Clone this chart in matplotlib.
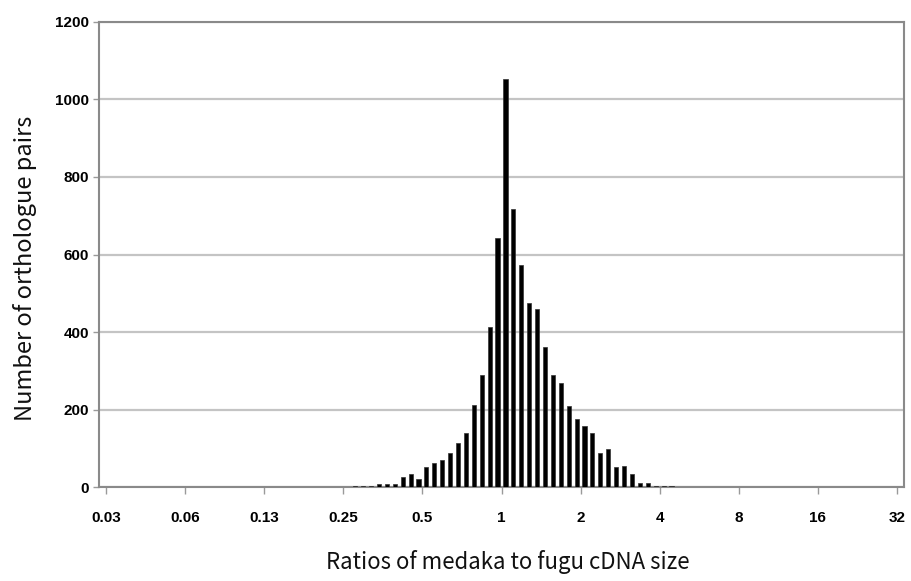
import numpy as np
import matplotlib
matplotlib.use("Agg")
import matplotlib.pyplot as plt

# bins are tenths of an octave (log2 of the medaka/fugu size ratio)
bin_index = list(range(-19, 22))
counts = [4, 4, 4, 9, 9, 9, 28, 34, 21, 52,
          63, 72, 90, 114, 141, 213, 290, 414, 643, 1053,
          718, 573, 476, 459, 362, 290, 270, 211, 176, 158,
          141, 90, 99, 52, 56, 35, 12, 12, 3, 3, 3]

tick_pos = [-5, -4, -3, -2, -1, 0, 1, 2, 3, 4, 5]
tick_labels = ['0.03', '0.06', '0.13', '0.25', '0.5', '1', '2', '4', '8', '16', '32']
y_ticks = [0, 200, 400, 600, 800, 1000, 1200]

log2_centers = np.array(bin_index) / 10 + 0.05

fig = plt.figure(figsize=(9.12, 5.81), dpi=100)
ax = fig.add_axes([0.1086, 0.161, 0.8826, 0.8017])

ax.bar(log2_centers, counts, width=0.052, color='black', edgecolor='#333333',
       linewidth=0.5, zorder=3)

ax.set_xlim(-5.09, 5.09)
ax.set_ylim(0, 1200)
ax.set_yticks(y_ticks)
ax.set_xticks(tick_pos)
ax.set_xticklabels(tick_labels)

ax.yaxis.grid(True, color='#c4c4c4', linewidth=1.6, zorder=0)
ax.set_axisbelow(True)

for s in ax.spines.values():
    s.set_color('#8a8a8a')
    s.set_linewidth(1.5)

ax.tick_params(axis='x', direction='out', length=5, width=1, color='#9a9a9a',
               pad=12, labelsize=11)
ax.tick_params(axis='y', direction='out', length=4, width=1, color='#9a9a9a',
               pad=3, labelsize=11)
for lab in ax.get_xticklabels() + ax.get_yticklabels():
    lab.set_fontfamily(['Liberation Sans Narrow', 'Liberation Sans', 'DejaVu Sans'])
    lab.set_fontweight('bold')

ax.set_xlabel('Ratios of medaka to fugu cDNA size', fontsize=16,
              family=['Noto Sans CJK JP', 'DejaVu Sans'], color='#111111')
ax.set_ylabel('Number of orthologue pairs', fontsize=17,
              family=['Noto Sans CJK JP', 'DejaVu Sans'], color='#111111')
ax.xaxis.set_label_coords(0.508, -0.135)
ax.yaxis.set_label_coords(-0.077, 0.47)

fig.savefig('out.png', dpi=100, facecolor='white')
